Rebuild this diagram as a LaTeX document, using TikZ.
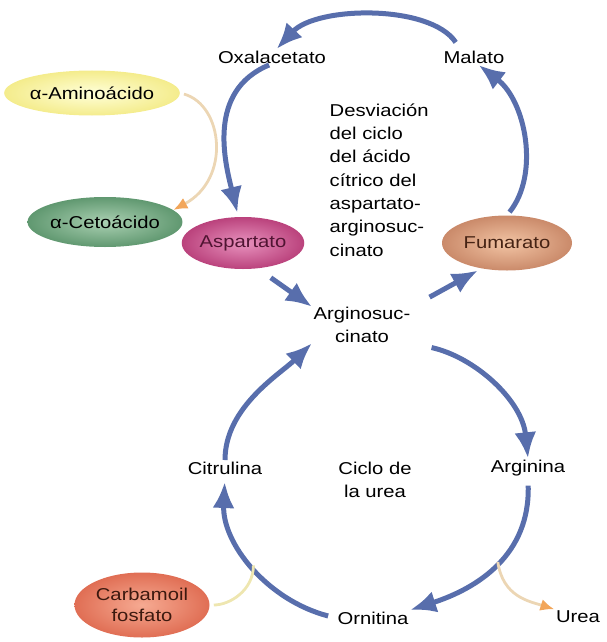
\documentclass[tikz,border=0pt]{standalone}
\usepackage{fontspec}
\setmainfont{Liberation Sans}[FakeStretch=1.18]
\usetikzlibrary{arrows.meta,shapes.geometric}

\definecolor{cycblue}{RGB}{88,110,172}
\definecolor{sidetan}{RGB}{236,214,180}
\definecolor{sideorange}{RGB}{242,166,90}
\definecolor{joinyellow}{RGB}{238,230,176}

\begin{document}
\begin{tikzpicture}[
  x=0.25mm, y=-0.25mm,
  lbl/.style={inner sep=1pt,align=center,font=\fontsize{12.2}{16.6}\selectfont},
  blob/.style={ellipse,inner sep=0pt,align=center,font=\fontsize{12.2}{14.5}\selectfont},
  cyc/.style={line width=1.25mm,draw=cycblue,-{Latex[length=6.5mm,width=5.5mm]}},
  side/.style={line width=0.7mm,draw=sidetan,-{Latex[length=3.5mm,width=3mm,color=sideorange]}}
]
\useasboundingbox (0,0) rectangle (606,642);

% metabolites
\node[lbl] (oxal) at (272,57) {Oxalacetato};
\node[lbl] (malato) at (474,57) {Malato};
\node[lbl] (argino) at (362,325) {Arginosuc-\\cinato};
\node[lbl] (citr) at (225,468) {Citrulina};
\node[lbl] (argn) at (528,468) {Arginina};
\node[lbl] (orn) at (373,618) {Ornitina};
\node[lbl] (urea) at (578,617) {Urea};

\node[blob,minimum width=40mm,minimum height=11.25mm,shade,inner color=yellow!15!white,outer color={rgb,255:red,244;green,236;blue,140}] (amino) at (92,93) {α-Aminoácido};
\node[blob,minimum width=31.25mm,minimum height=12.5mm,shade,inner color={rgb,255:red,170;green,208;blue,178},outer color={rgb,255:red,96;green,152;blue,112}] (ceto) at (105,222) {α-Cetoácido};
\node[blob,minimum width=29mm,minimum height=13mm,shade,inner color={rgb,255:red,232;green,146;blue,190},outer color={rgb,255:red,186;green,66;blue,124},text={rgb,255:red,80;green,20;blue,50}] (asp) at (243,243) {Aspartato};
\node[blob,minimum width=32.5mm,minimum height=13.75mm,shade,inner color={rgb,255:red,242;green,196;blue,164},outer color={rgb,255:red,202;green,138;blue,106},text={rgb,255:red,70;green,35;blue,20}] (fum) at (507,243) {Fumarato};
\node[blob,minimum width=33.75mm,minimum height=16.25mm,shade,inner color={rgb,255:red,246;green,170;blue,146},outer color={rgb,255:red,224;green,110;blue,84},text={rgb,255:red,60;green,25;blue,15}] (carb) at (142,605) {Carbamoil\\fosfato};

% texts in the middle
\node[lbl,align=left,anchor=west] (desv) at (328,180) {Desviación\\del ciclo\\del ácido\\cítrico del\\aspartato-\\arginosuc-\\cinato};
\node[lbl] (ciclo) at (375,480) {Ciclo de\\la urea};

% upper loop
\draw[cyc,shorten <=2mm] (malato.150) .. controls +(-30,-45) and +(40,-43) .. (oxal.60);
\draw[cyc,shorten >=1mm] (oxal.250) .. controls +(-63,26) and +(-13,-53) .. (asp.100);
\draw[cyc,shorten <=4mm] (asp.-60) -- (argino.160);
\draw[cyc,shorten <=5mm,shorten >=1mm] (argino.20) -- (fum.225);
\draw[cyc,shorten <=1mm] (fum.north) .. controls +(33,-41) and +(47,36) .. (malato.-60);

% urea cycle
\draw[cyc] (citr.north) .. controls +(0,-53) and +(-32,31) .. (argino.200);
\draw[cyc,shorten <=5mm] (argino.-20) .. controls +(63,14) and +(-6,-58) .. (argn.north);
\draw[cyc,shorten <=2mm] (argn.south) .. controls +(2,77) and +(68,-22) .. (orn.north east) coordinate[pos=0.48] (split);
\draw[cyc,shorten <=2mm,shorten >=1.5mm] (orn.west) .. controls +(-69,-18) and +(-3,67) .. (citr.south) coordinate[pos=0.5] (join);

% side reactions
\draw[side,shorten <=1mm] (amino.east) .. controls +(43,12) and +(58,-31) .. (ceto.10);
\draw[line width=0.7mm,draw=joinyellow,shorten <=1mm] (carb.east) .. controls +(20,0) and +(0,25) .. (join);
\draw[side] (split) .. controls +(5,35) and +(-25,-8) .. (urea.north west);
\end{tikzpicture}
\end{document}
